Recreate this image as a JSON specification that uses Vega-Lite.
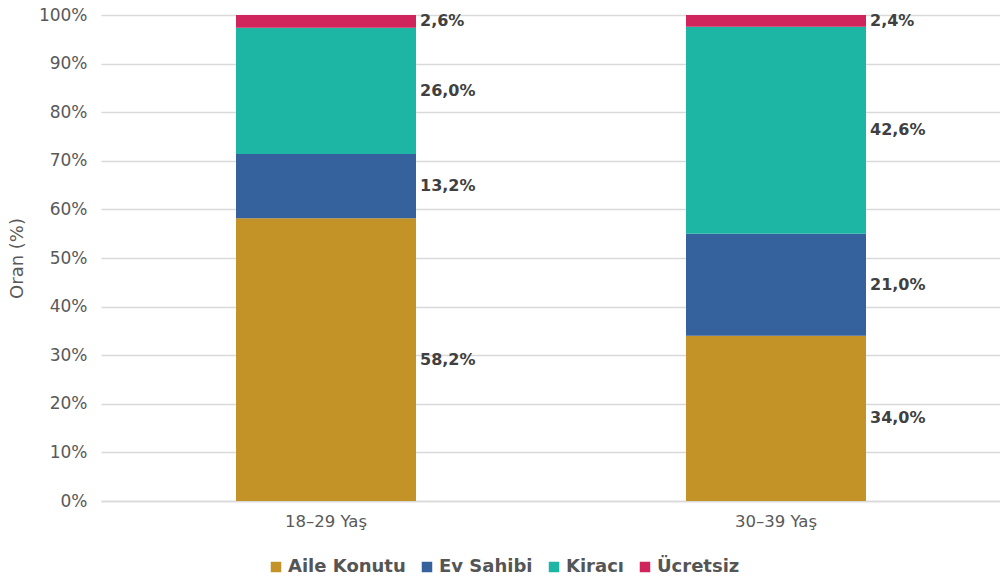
{
  "$schema": "https://vega.github.io/schema/vega-lite/v6.json",
  "width": 900,
  "height": 486,
  "padding": {"left": 8, "top": 6, "right": 0, "bottom": 5},
  "background": "white",
  "config": {
    "locale": {"number": {"decimal": ",", "thousands": ".", "grouping": [3], "currency": ["", " ₺"]}},
    "font": "DejaVu Sans",
    "view": {"stroke": null}
  },
  "data": {
    "values": [
      {"age": "18–29 Yaş", "cat": "Aile Konutu", "v": 0.582},
      {"age": "18–29 Yaş", "cat": "Ev Sahibi", "v": 0.132},
      {"age": "18–29 Yaş", "cat": "Kiracı", "v": 0.260},
      {"age": "18–29 Yaş", "cat": "Ücretsiz", "v": 0.026},
      {"age": "30–39 Yaş", "cat": "Aile Konutu", "v": 0.340},
      {"age": "30–39 Yaş", "cat": "Ev Sahibi", "v": 0.210},
      {"age": "30–39 Yaş", "cat": "Kiracı", "v": 0.426},
      {"age": "30–39 Yaş", "cat": "Ücretsiz", "v": 0.024}
    ]
  },
  "transform": [
    {"stack": "v", "groupby": ["age"], "sort": [{"field": "cat", "order": "ascending"}], "as": ["y0", "y1"]},
    {"calculate": "(datum.y0 + datum.y1) / 2", "as": "ym"}
  ],
  "encoding": {
    "x": {
      "field": "age", "type": "nominal",
      "scale": {"paddingInner": 0.6, "paddingOuter": 0.3},
      "axis": {"title": null, "labelAngle": 0, "labelFontSize": 16.5, "labelColor": "#595959", "labelPadding": 12, "ticks": false, "domainColor": "#d9d9d9", "domainWidth": 1.5}
    }
  },
  "layer": [
    {
      "mark": {"type": "bar"},
      "encoding": {
        "y": {
          "field": "y0", "type": "quantitative",
          "scale": {"domain": [0, 1]},
          "axis": {"title": "Oran (%)", "format": ".0%", "values": [0,0.1,0.2,0.3,0.4,0.5,0.6,0.7,0.8,0.9,1], "labelOverlap": false, "labelFontSize": 17, "labelColor": "#595959", "labelPadding": 14, "ticks": false, "domain": false, "gridColor": "#d9d9d9", "gridWidth": 1.5, "titleFontSize": 18, "titleColor": "#595959", "titleFontWeight": "normal", "titlePadding": 12}
        },
        "y2": {"field": "y1"},
        "color": {
          "field": "cat", "type": "nominal",
          "scale": {"domain": ["Aile Konutu", "Ev Sahibi", "Kiracı", "Ücretsiz"], "range": ["#C49328", "#35619C", "#1DB6A4", "#D0245C"]},
          "legend": {"title": null, "orient": "none", "legendX": 166, "legendY": 543, "direction": "horizontal", "symbolType": "square", "symbolSize": 110, "symbolStrokeWidth": 0, "labelFontSize": 18, "labelFontWeight": "bold", "labelColor": "#555555", "columnPadding": 12, "labelOffset": 3}
        }
      }
    },
    {
      "mark": {"type": "text", "align": "left", "baseline": "middle", "dx": 4, "fontSize": 16, "fontWeight": "bold", "color": "#404040"},
      "encoding": {
        "x": {"field": "age", "type": "nominal", "bandPosition": 1},
        "y": {"field": "ym", "type": "quantitative"},
        "text": {"field": "v", "type": "quantitative", "format": ".1%"}
      }
    }
  ]
}
